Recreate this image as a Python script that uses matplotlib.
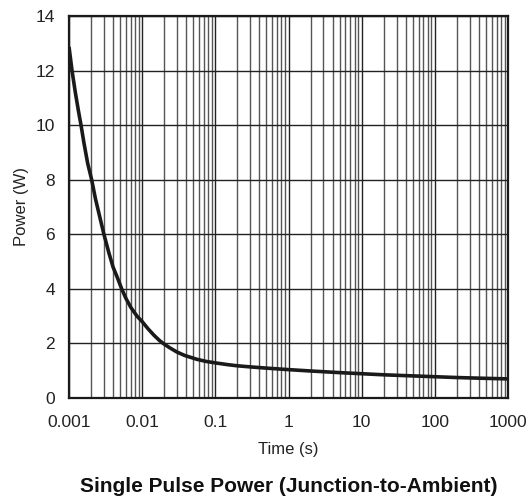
import matplotlib
matplotlib.use("Agg")
import matplotlib.pyplot as plt
from matplotlib.ticker import LogLocator, NullFormatter, FixedLocator

plt.rcParams['font.family'] = ['Liberation Sans', 'DejaVu Sans']

# Valores (tempo em s, potência em W)
tempo = [0.001, 0.0011, 0.00122, 0.00135, 0.00146, 0.0016, 0.0018, 0.00204,
         0.0023, 0.0026, 0.003, 0.0035, 0.004, 0.0046, 0.00525, 0.006, 0.007,
         0.0085, 0.01, 0.012, 0.0145, 0.0172, 0.0194, 0.0235, 0.0296, 0.038,
         0.0556, 0.075, 0.104, 0.15, 0.2, 0.3, 0.5, 1, 2, 5, 10, 20, 50, 100,
         200, 500, 1000]
potencia = [12.87, 12.0, 11.2, 10.5, 10.0, 9.35, 8.6, 8.0,
            7.3, 6.7, 6.0, 5.33, 4.8, 4.4, 4.0, 3.65, 3.32,
            3.0, 2.8, 2.54, 2.3, 2.11, 2.0, 1.85, 1.69, 1.56,
            1.42, 1.34, 1.28, 1.22, 1.18, 1.14, 1.095, 1.04, 0.99, 0.93, 0.89, 0.85, 0.81, 0.78,
            0.75, 0.72, 0.70]

x_ticks = [0.001, 0.01, 0.1, 1, 10, 100, 1000]
x_labels = ['0.001', '0.01', '0.1', '1', '10', '100', '1000']
y_ticks = [0, 2, 4, 6, 8, 10, 12, 14]

fig = plt.figure(figsize=(5.32, 5.0), dpi=100)
ax = fig.add_axes([69/532, 102/500, 439/532, 382/500])

ax.plot(tempo, potencia, color='#1a1a1a', lw=2.6, solid_capstyle='butt', zorder=3)

ax.set_xscale('log')
ax.set_xlim(0.001, 1000)
ax.set_ylim(0, 14)
ax.xaxis.set_major_locator(FixedLocator(x_ticks))
ax.set_xticklabels(x_labels)
ax.xaxis.set_minor_locator(LogLocator(base=10, subs=range(2, 10), numticks=20))
ax.xaxis.set_minor_formatter(NullFormatter())
ax.set_yticks(y_ticks)

ax.grid(True, which='major', axis='x', color='#222222', lw=1.0)
ax.grid(True, which='minor', axis='x', color='#555555', lw=1.0)
ax.grid(True, which='major', axis='y', color='#222222', lw=1.0)
ax.tick_params(which='both', length=0, labelsize=12.5, colors='#222222')
ax.tick_params(axis='x', pad=12)
ax.tick_params(axis='y', pad=10)

for s in ax.spines.values():
    s.set_linewidth(1.6)
    s.set_color('#1a1a1a')

ax.set_ylabel('Power (W)', fontsize=12, labelpad=4.5, color='#222222')
ax.set_xlabel('Time (s)', fontsize=12, labelpad=9, color='#222222')

fig.text(288.5/532, 1 - 486.5/500, 'Single Pulse Power (Junction-to-Ambient)', ha='center',
         va='center', fontsize=15, fontweight='bold', color='#111111')

fig.savefig('out.png', dpi=100)
